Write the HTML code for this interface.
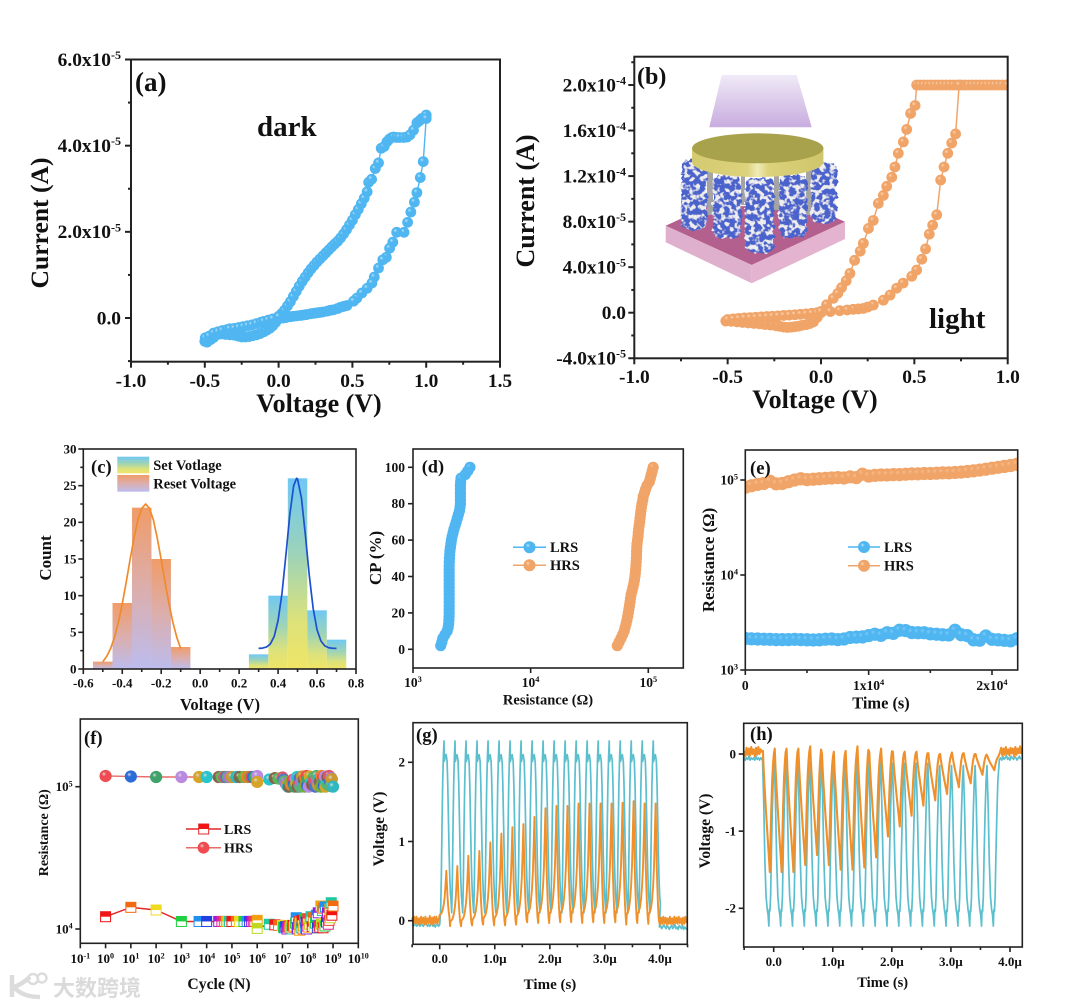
<!DOCTYPE html>
<html lang="en">
<head>
<meta charset="utf-8">
<title>Memristor characterisation figure</title>
<style>
html,body{margin:0;padding:0;background:#fff;}
svg{display:block;}
text{font-family:"Liberation Serif","Noto Serif CJK SC",serif;font-weight:bold;fill:#111;}
.wm{font-family:"Liberation Sans","Noto Sans CJK SC",sans-serif;font-weight:bold;fill:#dadada;}
</style>
</head>
<body>
<svg id="fig" xmlns="http://www.w3.org/2000/svg" width="1080" height="1007" viewBox="0 0 1080 1007">
<defs id="defs">
  <linearGradient id="setFill" x1="0" y1="0" x2="0" y2="1"><stop offset="0" stop-color="#6fc8f4"/><stop offset=".4" stop-color="#9dd3b8"/><stop offset=".75" stop-color="#dde27a"/><stop offset="1" stop-color="#efe566"/></linearGradient>
  <linearGradient id="resetFill" x1="0" y1="0" x2="0" y2="1"><stop offset="0" stop-color="#f09c68"/><stop offset=".5" stop-color="#dcaeac"/><stop offset="1" stop-color="#bcbcee"/></linearGradient>
  <linearGradient id="beamFill" x1="0" y1="0" x2="0" y2="1"><stop offset="0" stop-color="#f0eaf7"/><stop offset="1" stop-color="#c8acdf"/></linearGradient>
  <linearGradient id="diskSide" x1="0" y1="0" x2="1" y2="0"><stop offset="0" stop-color="#d4ca70"/><stop offset=".42" stop-color="#dcd27c"/><stop offset=".5" stop-color="#f0ebb8"/><stop offset=".58" stop-color="#dcd27c"/><stop offset="1" stop-color="#cfc56a"/></linearGradient>
  <filter id="pillarNoise" x="-10%" y="-10%" width="120%" height="120%">
    <feTurbulence type="fractalNoise" baseFrequency="0.2" numOctaves="2" seed="7" result="n"/>
    <feDisplacementMap in="SourceGraphic" in2="n" scale="6" xChannelSelector="R" yChannelSelector="G" result="rough"/>
    <feColorMatrix in="n" type="matrix" values="0 0 0 0 0.85  0 0 0 0 0.85  0 0 0 0 0.86  7 0 0 0 -3.4" result="blobs"/>
    <feComposite in="blobs" in2="rough" operator="in" result="speck"/>
    <feMerge><feMergeNode in="rough"/><feMergeNode in="speck"/></feMerge>
  </filter>
  <clipPath id="clipB"><rect x="634.3" y="56.7" width="373.4" height="301.6"/></clipPath>
  <clipPath id="clipE"><rect x="745.3" y="450" width="272.4" height="220"/></clipPath>
</defs>
<rect width="1080" height="1007" fill="#fff"/>

<g id="inset">
  <polygon points="721.7,75 796.7,75 811.7,127.3 709.3,127.3" fill="url(#beamFill)"/>
  <polygon points="665.7,225.7 706.7,206.7 806.7,205 845,221.7 751.7,265" fill="#b4608e"/>
  <polygon points="665.7,225.7 751.7,265 751.7,283.3 665.7,242.3" fill="#dfb0cd"/>
  <polygon points="751.7,265 845,221.7 845,239 751.7,283.3" fill="#e3b3d0"/>
  <rect x="707" y="165" width="6" height="50" fill="#a4a4a4"/>
  <rect x="741" y="170" width="4" height="35" fill="#a4a4a4"/>
  <rect x="774" y="170" width="5" height="40" fill="#a4a4a4"/>
  <rect x="806" y="165" width="6" height="50" fill="#a4a4a4"/>
  <rect x="681" y="160" width="26" height="70" rx="8" fill="#4a62cc" filter="url(#pillarNoise)"/>
  <rect x="811" y="163" width="26" height="60" rx="8" fill="#4a62cc" filter="url(#pillarNoise)"/>
  <rect x="713" y="175" width="28" height="63" rx="8" fill="#4a62cc" filter="url(#pillarNoise)"/>
  <rect x="779" y="175" width="28" height="63" rx="8" fill="#4a62cc" filter="url(#pillarNoise)"/>
  <rect x="745" y="178" width="29" height="75" rx="8" fill="#4a62cc" filter="url(#pillarNoise)"/>
  <path d="M692,148 L692,162 A65.7,15 0 0 0 823.4,162 L823.4,148 Z" fill="url(#diskSide)"/>
  <ellipse cx="757.7" cy="148.3" rx="65.7" ry="15" fill="#a9a24c"/>
</g>

<g id="panelA">
  <text x="135" y="91" font-size="27">(a)</text>
  <text x="257" y="136" font-size="29">dark</text>
  <text x="319" y="412" font-size="26" text-anchor="middle">Voltage (V)</text>
  <text transform="translate(48,223) rotate(-90)" font-size="25.6" text-anchor="middle">Current (A)</text>
</g>
<g id="panelB">
  <text x="637" y="84" font-size="24">(b)</text>
  <text x="929" y="328" font-size="29">light</text>
  <text x="815" y="408" font-size="26" text-anchor="middle">Voltage (V)</text>
  <text transform="translate(534,201) rotate(-90)" font-size="26" text-anchor="middle">Current (A)</text>
</g>
<g id="panelC">
  <text x="91" y="473" font-size="18.6">(c)</text>
  <text x="220" y="710" font-size="16.6" text-anchor="middle">Voltage (V)</text>
  <text transform="translate(51,558) rotate(-90)" font-size="17" text-anchor="middle">Count</text>
  <rect x="117.3" y="456.7" width="32" height="16.6" fill="url(#setFill)"/>
  <rect x="117.3" y="475" width="32" height="16.7" fill="url(#resetFill)"/>
  <text x="153.3" y="470" font-size="14.4">Set Votlage</text>
  <text x="153.3" y="488.3" font-size="14.4">Reset Voltage</text>
</g>
<g id="panelD">
  <text x="421.7" y="472.3" font-size="18.3">(d)</text>
  <text x="548" y="704.3" font-size="14.5" text-anchor="middle">Resistance (Ω)</text>
  <text transform="translate(381,558) rotate(-90)" font-size="17" text-anchor="middle">CP (%)</text>
</g>
<g id="panelE">
  <text x="881" y="708.3" font-size="16.4" text-anchor="middle">Time (s)</text>
  <text transform="translate(714,560) rotate(-90)" font-size="16.8" text-anchor="middle">Resistance (Ω)</text>
</g>
<g id="panelF">
  <text x="84" y="744" font-size="18.6">(f)</text>
  <text x="219" y="989" font-size="15.7" text-anchor="middle">Cycle (N)</text>
  <text transform="translate(48,832.7) rotate(-90)" font-size="14" text-anchor="middle">Resistance (Ω)</text>
</g>
<g id="panelG">
  <text x="416" y="741" font-size="18.6">(g)</text>
  <text x="550" y="989" font-size="15" text-anchor="middle">Time (s)</text>
  <text transform="translate(384,829) rotate(-90)" font-size="15.5" text-anchor="middle">Voltage (V)</text>
</g>
<g id="panelH">
  <text x="750" y="740" font-size="18.6">(h)</text>
  <text x="882.7" y="987" font-size="14.5" text-anchor="middle">Time (s)</text>
  <text transform="translate(710,831) rotate(-90)" font-size="15.5" text-anchor="middle">Voltage (V)</text>
</g>
<g id="watermark">
  <path d="M12,975 L12,997 M30,977 C22,984 17,986 14,987 C18,992 26,997 40,997" fill="none" stroke="#dcdcdc" stroke-width="4.5"/>
  <circle cx="33" cy="979" r="5" fill="none" stroke="#dcdcdc" stroke-width="2.4"/>
  <circle cx="42" cy="978" r="4.5" fill="none" stroke="#dcdcdc" stroke-width="2.4"/>
  <text class="wm" x="53" y="996" font-size="22">大数跨境</text>
</g>
</svg>

<script>
/* ---------- panel (a) dark I-V: volts, current in 1e-5 A ---------- */
const aVoltage = [0,.02,.04,.06,.08,.10,.12,.14,.16,.18,.20,.22,.24,.26,.28,.30,.32,.34,.36,.38,.40,.42,.44,.46,.48,.50,.52,.54,.56,.58,.60,.61,.63,.655,.677,.695,.715,.734,.75,.767,.78,.80,.82,.847,.87,.89,.914,.937,.955,.97,.985,1.0,1.0,
 .98,.96,.937,.92,.896,.874,.85,.80,.774,.752,.73,.706,.677,.648,.632,.60,.564,.53,.508,.463,.44,.42,.40,.372,.35,.33,.30,.28,.26,.24,.22,.19,.17,.15,.125,.10,.08,.05,.03,0,
 -.02,-.04,-.06,-.08,-.10,-.125,-.15,-.175,-.20,-.225,-.25,-.275,-.30,-.33,-.36,-.39,-.42,-.44,-.46,-.485,-.50,
 -.497,-.47,-.44,-.41,-.38,-.35,-.33,-.30,-.27,-.24,-.21,-.18,-.15,-.12,-.10,-.07,-.04,0];
const aCurrent = [.04,.10,.18,.28,.38,.50,.62,.74,.85,.95,1.05,1.14,1.22,1.30,1.37,1.44,1.51,1.58,1.65,1.72,1.78,1.86,1.95,2.05,2.16,2.27,2.40,2.52,2.65,2.78,2.93,3.15,3.22,3.47,3.60,3.94,3.98,4.09,4.15,4.19,4.20,4.19,4.19,4.19,4.20,4.25,4.36,4.53,4.58,4.63,4.65,4.71,4.63,
 3.63,3.26,2.91,2.69,2.46,2.22,1.99,1.99,1.76,1.62,1.41,1.35,1.16,.95,.81,.69,.58,.46,.39,.29,.27,.25,.22,.19,.18,.16,.14,.13,.12,.11,.10,.08,.07,.06,.05,.04,.03,.01,0,-.02,
 -.10,-.18,-.24,-.28,-.32,-.36,-.39,-.41,-.43,-.44,-.44,-.42,-.40,-.39,-.38,-.37,-.39,-.45,-.50,-.56,-.54,
 -.46,-.42,-.35,-.32,-.29,-.27,-.25,-.24,-.22,-.20,-.18,-.16,-.13,-.10,-.08,-.05,-.02,.03];
const aXTicks = [-1,-0.5,0,0.5,1,1.5];
const aXMinor = [-0.75,-0.25,0.25,0.75,1.25];
const aXLabels = ['-1.0','-0.5','0.0','0.5','1.0','1.5'];
const aYTicks = [0,2,4,6];
const aYMinor = [-1,1,3,5];
const aYLabels = ['0.0','2.0x10|-5','4.0x10|-5','6.0x10|-5'];

/* ---------- panel (b) light I-V: volts, current in 1e-5 A ---------- */
const bVoltage = [0,.03,.066,.09,.11,.135,.155,.18,.21,.227,.254,.28,.307,.334,.352,.379,.396,.414,.441,.459,.48,.504,.5125,.53,.55,.57,.59,.61,.63,.65,.67,.69,.71,.73,.75,.77,.79,.81,.83,.85,.87,.89,.91,.93,.95,.97,.99,1.0,.98,.90,.80,.74,
 .721,.70,.679,.659,.641,.62,.598,.58,.56,.54,.5125,.486,.44,.405,.37,.334,.28,.25,.227,.20,.173,.14,.10,.05,0,
 -.02,-.04,-.06,-.08,-.10,-.12,-.14,-.16,-.18,-.20,-.22,-.24,-.27,-.30,-.33,-.36,-.39,-.42,-.45,-.48,-.51,
 -.50,-.47,-.44,-.41,-.38,-.35,-.32,-.29,-.26,-.23,-.20,-.17,-.14,-.11,-.08,-.05,-.02,0];
const bCurrent = [.1,.7,1.26,1.7,2.2,2.8,3.45,4.6,5.4,6.1,7.4,8.1,9.6,10.3,11.1,11.9,12.8,14,15,16.1,17.5,18.2,20,20,20,20,20,20,20,20,20,20,20,20,20,20,20,20,20,20,20,20,20,20,20,20,20,20,20,20,20,20,
 15.7,14.9,14,12.8,11.65,8.6,7.7,6.9,5.6,4.7,3.75,3.2,2.6,2.15,1.55,1.1,.67,.5,.38,.33,.3,.24,.18,.1,0,
 -.4,-.8,-.95,-1.05,-1.1,-1.18,-1.23,-1.27,-1.29,-1.26,-1.2,-1.15,-1.08,-1.04,-.98,-.94,-.9,-.85,-.8,-.76,-.73,
 -.6,-.55,-.5,-.46,-.43,-.4,-.37,-.34,-.31,-.28,-.24,-.21,-.18,-.14,-.1,-.05,0,.1];
const bMarkerless = [48,49,50];
const bXTicks = [-1,-0.5,0,0.5,1];
const bXMinor = [-0.75,-0.25,0.25,0.75];
const bXLabels = ['-1.0','-0.5','0.0','0.5','1.0'];
const bYTicks = [-4,0,4,8,12,16,20];
const bYMinor = [-2,2,6,10,14,18,22];
const bYLabels = ['-4.0x10|-5','0.0','4.0x10|-5','8.0x10|-5','1.2x10|-4','1.6x10|-4','2.0x10|-4'];

/* ---------- panel (c) histograms ---------- */
const cResetCentres = [-0.5,-0.4,-0.3,-0.2,-0.1];
const cResetCounts = [1,9,22,15,3];
const cSetCentres = [0.3,0.4,0.5,0.6,0.7];
const cSetCounts = [2,10,26,8,4];
const cBinWidth = 0.1;
const cResetFitX = [-.5,-.48,-.46,-.44,-.42,-.40,-.38,-.36,-.34,-.32,-.30,-.28,-.26,-.24,-.22,-.20,-.18,-.16,-.14,-.12,-.10];
const cResetFitY = [.99,1.7,2.78,4.31,6.35,8.88,11.8,14.9,17.8,20.3,21.9,22.5,21.9,20.3,17.8,14.9,11.8,8.88,6.35,4.31,2.78];
const cSetFitX = [.30,.32,.34,.36,.38,.40,.42,.44,.46,.48,.495,.50,.52,.54,.56,.58,.60,.62,.64,.66,.68,.70];
const cSetFitY = [2.81,2.85,2.99,3.4,4.44,6.63,10.3,15.5,21,25,26,25.9,23.3,18.3,12.8,8.27,5.35,3.82,3.15,2.9,2.83,2.81];
const cXTicks = [-0.6,-0.4,-0.2,0,0.2,0.4,0.6,0.8];
const cXMinor = [-0.5,-0.3,-0.1,0.1,0.3,0.5,0.7];
const cXLabels = ['-0.6','-0.4','-0.2','0.0','0.2','0.4','0.6','0.8'];
const cYTicks = [0,5,10,15,20,25,30];
const cYMinor = [2.5,7.5,12.5,17.5,22.5,27.5];
const cYLabels = ['0','5','10','15','20','25','30'];

/* ---------- panel (d) cumulative probability ---------- */
const dCP = [2,4,6,8,10,12,14,16,18,20,22,24,26,28,30,32,34,36,38,40,42,44,46,48,50,52,54,56,58,60,62,64,66,68,70,72,74,76,78,80,82,84,86,88,90,92,94,96,98,100];
const dLRS = [1720,1760,1790,1870,1950,1990,2010,2020,2025,2030,2030,2030,2030,2030,2030,2030,2030,2030,2030,2030,2030,2030,2030,2035,2040,2050,2060,2080,2100,2120,2150,2190,2230,2280,2330,2380,2430,2480,2510,2530,2530,2530,2530,2530,2530,2540,2560,2780,2920,3050];
const dHRS = [54500,56500,58500,60500,62300,63500,64700,65800,66800,67600,68400,69200,70000,70600,71400,72700,74000,75200,76200,77000,77600,78100,78500,78900,79200,79400,79600,79800,80200,81000,81800,82200,82800,83600,84500,85000,85800,86500,87300,88400,89800,90600,92800,95000,97500,102000,104000,106000,108000,110000];
const dXTicks = [1e3,1e4,1e5];
const dXLabels = ['10|3','10|4','10|5'];
const dYTicks = [0,20,40,60,80,100];
const dYLabels = ['0','20','40','60','80','100'];

/* ---------- panel (e) retention ---------- */
const eTime = [0,500,1000,1500,2000,2500,3000,3500,4000,4500,5000,5500,6000,6500,7000,7500,8000,8500,9000,9500,10000,10500,11000,11500,12000,12500,13000,13500,14000,14500,15000,15500,16000,16500,17000,17500,18000,18500,19000,19500,20000,20500,21000,21500,22000];
const eLRS = [2150,2130,2120,2110,2100,2090,2090,2090,2100,2090,2080,2070,2080,2110,2120,2090,2120,2200,2220,2230,2300,2380,2320,2470,2430,2620,2600,2480,2470,2470,2400,2380,2350,2340,2620,2350,2300,2080,2060,2280,2100,2080,2050,2030,2130];
const eHRS = [84000,87000,90000,92000,97000,91000,92000,96000,100000,103000,101000,102000,103000,104000,105000,106000,105000,108000,106000,115000,110000,112000,113000,113000,114000,114000,115000,116000,116000,117000,117000,118000,119000,119000,120000,121000,123000,125000,127000,130000,133000,136000,139000,142000,146000];
const eXTicks = [0,1e4,2e4];
const eXMinor = [5000,15000];
const eXLabels = ['0','1x10|4','2x10|4'];
const eYTicks = [1e3,1e4,1e5];
const eYLabels = ['10|3','10|4','10|5'];

/* ---------- panel (f) endurance ---------- */
const fCycles = [1,10,100,1e3,5e3,1e4,3e4,4e4,5e4,6e4,7e4,8e4,1e5,1.5e5,2e5,3e5,4e5,5e5,6e5,7e5,8e5,1e6,1e6,3e6,5e6,7e6,
 1e7,1.1e7,1.2e7,1.35e7,1.5e7,1.65e7,1.8e7,2e7,2.2e7,2.4e7,2.6e7,2.8e7,3e7,3.3e7,3.5e7,3.8e7,4e7,4.3e7,4.5e7,4.8e7,
 5e7,5.5e7,6e7,6.5e7,7e7,7.5e7,8e7,8.5e7,9e7,9.5e7,1e8,1.1e8,1.2e8,1.35e8,1.5e8,1.65e8,1.8e8,2e8,2.2e8,2.4e8,
 2.6e8,2.8e8,3e8,3.3e8,3.5e8,3.8e8,4e8,4.3e8,4.5e8,4.8e8,5e8,5.5e8,6e8,6.5e8,7e8,7.5e8,8e8,8.5e8,9e8,1e9];
const fHRS = [1.19e5,1.18e5,1.17e5,1.17e5,1.17e5,1.17e5,1.17e5,1.17e5,1.17e5,1.17e5,1.17e5,1.17e5,1.17e5,1.17e5,1.17e5,1.17e5,1.17e5,1.17e5,1.17e5,1.17e5,1.17e5,1.19e5,1.08e5,1.125e5,1.15e5,1.14e5,
 1.16e5,1.12e5,1.09e5,1.05e5,1.02e5,1.0e5,1.0e5,1.08e5,1.03e5,1.1e5,1.12e5,1.04e5,1.0e5,1.14e5,1.06e5,1.17e5,1.0e5,1.1e5,1.04e5,1.15e5,
 1.0e5,1.08e5,1.18e5,1.03e5,1.12e5,1.0e5,1.16e5,1.06e5,1.19e5,1.02e5,1.13e5,1.0e5,1.18e5,1.07e5,1.03e5,1.16e5,1.11e5,1.0e5,1.19e5,1.06e5,
 1.02e5,1.14e5,1.08e5,1.0e5,1.19e5,1.05e5,1.16e5,1.02e5,1.1e5,1.18e5,1.0e5,1.06e5,1.17e5,1.03e5,1.19e5,1.08e5,1.01e5,1.15e5,1.13e5,1.0e5];
const fLRS = [1.22e4,1.42e4,1.36e4,1.13e4,1.13e4,1.13e4,1.13e4,1.13e4,1.13e4,1.13e4,1.13e4,1.13e4,1.13e4,1.13e4,1.13e4,1.13e4,1.13e4,1.13e4,1.13e4,1.13e4,1.13e4,1.15e4,1.01e4,1.08e4,1.07e4,1.06e4,
 1.06e4,1.03e4,1.02e4,1.04e4,1.0e4,1.03e4,1.05e4,1.02e4,1.05e4,1.0e4,1.06e4,1.03e4,1.05e4,1.1e4,1.2e4,1.02e4,1.0e4,1.08e4,1.13e4,0.98e4,
 1.1e4,1.02e4,1.15e4,1.0e4,1.05e4,1.18e4,1.02e4,1.12e4,1.0e4,1.05e4,1.18e4,1.03e4,1.08e4,1.22e4,1.04e4,1.2e4,1.02e4,1.1e4,1.25e4,1.02e4,
 1.3e4,1.05e4,1.03e4,1.45e4,1.08e4,1.35e4,1.02e4,1.4e4,1.1e4,1.05e4,1.43e4,1.12e4,1.3e4,1.08e4,1.15e4,1.38e4,1.2e4,1.53e4,1.25e4,1.45e4];
const fCircleColors = ['#ef4b50','#2b6cd8','#3fa26b','#b98ae0','#d6a427','#27c4c9','#8b5e4a','#58b858','#e0556a','#4a76c8','#5fae78','#a878d0','#c89a30','#30b8c0','#7a6a50','#70b040','#ee7f2a','#9a9a30'];
const fSquareColors = ['#f01414','#f26a10','#f0da20','#20d040','#2090f0','#2040e0','#9020e0','#e020a0','#f04040','#f0a010','#c0d820','#20c8a0'];
const fXTicks = [1e-1,1,10,100,1e3,1e4,1e5,1e6,1e7,1e8,1e9,1e10];
const fXLabels = ['10|-1','10|0','10|1','10|2','10|3','10|4','10|5','10|6','10|7','10|8','10|9','10|10'];
const fYTicks = [1e4,1e5];
const fYLabels = ['10|4','10|5'];

/* ---------- panel (g) set pulses (µs, V) ---------- */
const gPulseTime = [0,.2,.4,.6,.8,1.0,1.2,1.4,1.6,1.8,2.0,2.2,2.4,2.6,2.8,3.0,3.2,3.4,3.6,3.8];
const gCyanPeak = [2.27,2.27,2.27,2.27,2.27,2.27,2.27,2.27,2.27,2.27,2.27,2.27,2.27,2.27,2.27,2.27,2.27,2.27,2.27,2.27];
const gCyanFloor = [.14,.1,.1,.1,.1,.1,.1,.1,.1,.1,.1,.1,.1,.1,.1,.1,.1,.1,.1,.1];
const gOrangePeak = [.63,.69,.82,.88,.99,1.10,1.18,1.22,1.31,1.42,1.45,1.45,1.48,1.48,1.48,1.48,1.49,1.51,1.48,1.48];
const gOrangeFloor = [.02,-.07,-.07,-.06,-.05,-.06,-.06,-.05,-.02,-.03,-.03,-.02,-.02,-.03,-.02,-.03,-.02,-.05,-.03,-.04];
const gCyanBefore = [-.05,-.07,-.05,-.04,-.07,-.05,-.05,-.07,-.04,-.05,-.07,-.05,-.05,-.04,-.07,-.05,-.07,-.05,-.04,-.07,-.05,-.08,-.05,-.05,-.07,-.05];
const gCyanAfter = [-.08,-.06,-.1,-.08,-.05,-.08,-.1,-.06,-.08,-.11,-.08,-.06,-.1,-.08,-.05,-.1,-.08,-.11,-.06,-.08,-.1,-.06,-.11,-.08,-.1,-.11];
const gOrangeBefore = [.04,-.04,.05,-.03,.05,-.05,.03,-.04,.05,-.03,.04,-.05,.05,-.04,.03,-.03,.06,-.04,.04,-.05,.05,-.03,.05,-.04,.03,.03];
const gOrangeAfter = [.0,-.05,.04,-.04,.05,-.03,.04,-.05,.03,-.04,.05,-.04,.03,-.05,.05,-.03,.04,-.04,.05,-.03,.03,-.05,.04,-.04,.05,-.03];
const gBaseStep = 0.02;
const gXTicks = [0,1,2,3,4];
const gXMinor = [-.5,.5,1.5,2.5,3.5,4.5];
const gXLabels = ['0.0','1.0µ','2.0µ','3.0µ','4.0µ'];
const gYTicks = [0,1,2];
const gYLabels = ['0','1','2'];

/* ---------- panel (h) reset pulses (µs, V) ---------- */
const hPulseTime = [-.19,.01,.21,.41,.61,.81,1.01,1.21,1.41,1.61,1.81,2.01,2.21,2.41,2.61,2.81,3.01,3.21,3.41,3.61];
const hCyanBottom = [-2.23,-2.23,-2.23,-2.23,-2.23,-2.23,-2.23,-2.23,-2.23,-2.23,-2.23,-2.23,-2.23,-2.23,-2.23,-2.23,-2.23,-2.23,-2.23,-2.23];
const hCyanTop = [-.05,-.08,-.08,-.1,-.1,-.1,-.1,-.1,-.1,-.1,-.1,-.12,-.12,-.12,-.12,-.15,-.15,-.15,-.15,-.15];
const hOrangeTop = [.04,.07,.07,.07,.1,.0,.03,.04,.1,.03,.07,.03,.03,.03,.01,0,.02,.01,0,-.03];
const hOrangeBottom = [-1.53,-1.53,-1.53,-1.44,-1.31,-1.44,-1.50,-1.50,-1.47,-1.34,-1.07,-.94,-.80,-.67,-.60,-.52,-.43,-.38,-.27,-.21];
const hCyanBefore = [-.05,-.08,-.05,-.07,-.03,-.08,-.05,-.07,-.05,-.08,-.03,-.07,-.05,-.08,-.05,-.07];
const hCyanAfter = [-.07,-.05,-.08,-.03,-.07,-.05,-.02,-.07,-.05,-.08,-.03,-.05,-.07,-.03,-.05,-.08,-.05,-.03,-.07];
const hOrangeBefore = [.04,-.03,.08,-.01,.07,-.02,.09,.0,.06,-.03,.08,-.01,.09,.0,.06,.03];
const hOrangeAfter = [.02,.08,-.02,.07,-.01,.09,.0,.06,-.02,.08,.01,.07,-.03,.09,-.01,.07,.01,.1,.0];
const hBaseStep = 0.02;
const hXTicks = [0,1,2,3,4];
const hXMinor = [-.5,.5,1.5,2.5,3.5];
const hXLabels = ['0.0','1.0µ','2.0µ','3.0µ','4.0µ'];
const hYTicks = [-2,-1,0];
const hYLabels = ['-2','-1','0'];

/* ---------- pulse shapes: [fraction of period, fraction of pulse height] ---------- */
const gCyanShape = [[.09,0],[.15,.2],[.21,.5],[.27,.75],[.33,.9],[.39,1],[.42,.88],[.48,.9],[.58,.92],[.67,.88],[.73,.75],[.79,.55],[.85,.35],[.91,.2],[.97,.1],[1.03,.05]];
const gOrangeShape = [[-.06,0],[-.02,.08],[.08,.1],[.18,.13],[.28,.2],[.38,.32],[.46,.48],[.53,.72],[.6,1],[.65,.75],[.7,.5],[.76,.3],[.82,.15],[.88,.05]];
const hCyanShape = [[0,0],[.1,.25],[.2,.6],[.3,.82],[.4,.9],[.47,.93],[.54,1],[.58,.9],[.63,.91],[.69,.82],[.76,.55],[.84,.3],[.92,.1]];
const hOrangeShape = [[.04,0],[.1,.15],[.18,.3],[.28,.47],[.38,.63],[.48,.78],[.56,.9],[.62,1],[.67,.78],[.74,.5],[.82,.25],[.9,.1],[.96,.03]];

/* ---------- helpers ---------- */
const NS = 'http://www.w3.org/2000/svg';
const fig = document.getElementById('fig');
const defs = document.getElementById('defs');
function mk(parent, tag, attrs){
  const el = document.createElementNS(NS, tag);
  for (const k in attrs) el.setAttribute(k, attrs[k]);
  parent.appendChild(el);
  return el;
}
function lin(d0,d1,r0,r1){ return v => r0 + (v-d0)*(r1-r0)/(d1-d0); }
function logScale(d0,d1,r0,r1){ const a=Math.log10(d0), b=Math.log10(d1); return v => r0 + (Math.log10(v)-a)*(r1-r0)/(b-a); }
function gloss(id, color, light){
  const g = mk(defs,'radialGradient',{id:id,cx:'.42',cy:'.42',r:'.62',fx:'.36',fy:'.32'});
  mk(g,'stop',{offset:'0','stop-color':light});
  mk(g,'stop',{offset:'.3','stop-color':color});
  mk(g,'stop',{offset:'1','stop-color':color});
}
gloss('blueBall','#4fb6f1','#b8e4fb');
gloss('orangeBall','#f1a468','#f9d8ba');
gloss('blueSoft','#4fb6f1','#7ccaf5');
gloss('orangeSoft','#f1a468','#f5bd8e');
fCircleColors.forEach((c,i)=>gloss('fBall'+i,c,'#dedede'));

function labelText(parent, x, y, label, fs, anchor, name){
  const t = mk(parent,'text',{x:x,y:y,'font-size':fs,'text-anchor':anchor});
  
  
  const parts = String(label).split('|');
  t.appendChild(document.createTextNode(parts[0]));
  if (parts[1] !== undefined){
    const s = mk(t,'tspan',{dy:-fs*0.36,'font-size':fs*0.62});
    s.textContent = parts[1];
  }
  return t;
}
function tick(parent, x1,y1,x2,y2,w,name){
  const l = mk(parent,'line',{x1:x1,y1:y1,x2:x2,y2:y2,stroke:'#222','stroke-width':w});
  
  
}
function axes(id, p, sx, sy, o){
  const g = document.getElementById(id);
  const tag = id.slice(-1).toLowerCase();
  const fr = mk(g,'rect',{x:p.x0,y:p.y0,width:p.x1-p.x0,height:p.y1-p.y0,fill:'none',stroke:'#222','stroke-width':o.frame});
  
  
  o.xt.forEach((v,i)=>{
    const x = sx(v);
    tick(g,x,p.y1,x,p.y1+o.major,o.tw,'x-tick-'+tag);
    labelText(g,x+(o.xShift||0),o.xBase,o.xl[i],o.fs,'middle','x-tick-label-'+tag);
  });
  (o.xm||[]).forEach(v=>{ const x=sx(v); tick(g,x,p.y1,x,p.y1+o.minor,o.tw,'x-minor-tick-'+tag); });
  o.yt.forEach((v,i)=>{
    const y = sy(v);
    tick(g,p.x0,y,p.x0-o.major,y,o.tw,'y-tick-'+tag);
    labelText(g,o.yRight,y+o.fs*0.33,o.yl[i],o.fs,'end','y-tick-label-'+tag);
  });
  (o.ym||[]).forEach(v=>{ const y=sy(v); tick(g,p.x0,y,p.x0-o.minor,y,o.tw,'y-minor-tick-'+tag); });
}
function polyline(parent, xs, ys, sx, sy, color, w, name, clip){
  const pts = xs.map((v,i)=>sx(v).toFixed(2)+','+sy(ys[i]).toFixed(2)).join(' ');
  const l = mk(parent,'polyline',{points:pts,fill:'none',stroke:color,'stroke-width':w,'stroke-linejoin':'round'});
  
  
  if (clip) l.setAttribute('clip-path','url(#'+clip+')');
  return l;
}
function balls(parent, xs, ys, sx, sy, ball, r, name, clip, skip){
  xs.forEach((v,i)=>{
    if (skip && skip.indexOf(i)>=0) return;
    const c = mk(parent,'circle',{cx:sx(v).toFixed(2),cy:sy(ys[i]).toFixed(2),r:r,fill:'url(#'+ball+')'});
    
    
    if (clip) c.setAttribute('clip-path','url(#'+clip+')');
  });
}
function legendEntry(parent, x0, x1, y, color, ball, r, label, fs, textX, name){
  const l = mk(parent,'line',{x1:x0,y1:y,x2:x1,y2:y,stroke:color,'stroke-width':1.5});
  
  
  const c = mk(parent,'circle',{cx:(x0+x1)/2,cy:y,r:r,fill:'url(#'+ball+')'});
  
  
  labelText(parent,textX,y+fs*0.33,label,fs,'start',name+'-label');
}
function pulsePath(parent, before, after, baseStep, beforeStart, afterStart, times, floors, peaks, shape, sx, sy, color, w, name){
  const pts = [];
  before.forEach((v,i)=>pts.push([beforeStart+i*baseStep, v]));
  times.forEach((t,i)=>{
    shape.forEach(s=>pts.push([t+s[0]*0.2, floors[i]+s[1]*(peaks[i]-floors[i])]));
  });
  after.forEach((v,i)=>pts.push([afterStart+i*baseStep, v]));
  const d = 'M'+pts.map(p=>sx(p[0]).toFixed(2)+' '+sy(p[1]).toFixed(2)).join('L');
  const el = mk(parent,'path',{d:d,fill:'none',stroke:color,'stroke-width':w,'stroke-linejoin':'round'});
  
  
}

/* ---------- (a) ---------- */
(function(){
  const sx = lin(-1,1.5,131,500), sy = lin(0,6,318,59.5);
  const g = document.getElementById('panelA');
  polyline(g,aVoltage,aCurrent,sx,sy,'#4fb6f1',1.4,'iv-curve-line-dark');
  balls(g,aVoltage,aCurrent,sx,sy,'blueBall',5.4,'iv-point-dark');
  axes('panelA',{x0:131,x1:500,y0:59.5,y1:361.7},sx,sy,{frame:2,tw:2,major:6,minor:3,fs:19.4,xt:aXTicks,xm:aXMinor,xl:aXLabels,yt:aYTicks,ym:aYMinor,yl:aYLabels,xBase:387,yRight:121});
})();

/* ---------- (b) ---------- */
(function(){
  const sx = lin(-1,1,634.3,1007.7), sy = lin(0,20,312.7,85);
  const g = document.getElementById('panelB');
  polyline(g,bVoltage,bCurrent,sx,sy,'#f1a468',1.5,'iv-curve-line-light','clipB');
  balls(g,bVoltage,bCurrent,sx,sy,'orangeBall',5.4,'iv-point-light','clipB',bMarkerless);
  axes('panelB',{x0:634.3,x1:1007.7,y0:56.7,y1:358.3},sx,sy,{frame:2,tw:2,major:6,minor:3,fs:19.4,xt:bXTicks,xm:bXMinor,xl:bXLabels,yt:bYTicks,ym:bYMinor,yl:bYLabels,xBase:383,yRight:626});
})();

/* ---------- (c) ---------- */
(function(){
  const sx = lin(-.6,.8,83.3,356), sy = lin(0,30,669,449);
  const g = document.getElementById('panelC');
  function bars(centres, counts, fill, name){
    centres.forEach((c,i)=>{
      const r = mk(g,'rect',{x:sx(c-cBinWidth/2),y:sy(counts[i]),width:sx(c+cBinWidth/2)-sx(c-cBinWidth/2),height:sy(0)-sy(counts[i]),fill:fill});
      
      
    });
  }
  bars(cResetCentres,cResetCounts,'url(#resetFill)','reset-voltage-bar');
  bars(cSetCentres,cSetCounts,'url(#setFill)','set-voltage-bar');
  polyline(g,cResetFitX,cResetFitY,sx,sy,'#f08a2a',1.7,'reset-gaussian-fit');
  polyline(g,cSetFitX,cSetFitY,sx,sy,'#1d4fcf',1.7,'set-gaussian-fit');
  axes('panelC',{x0:83.3,x1:356,y0:449,y1:669},sx,sy,{frame:1.6,tw:1.6,major:5,minor:3,fs:13,xt:cXTicks,xm:cXMinor,xl:cXLabels,yt:cYTicks,ym:cYMinor,yl:cYLabels,xBase:687.5,yRight:76.5});
})();

/* ---------- (d) ---------- */
(function(){
  const sx = logScale(1e3,1e5,413,648.3), sy = lin(0,100,649.3,467.3);
  const g = document.getElementById('panelD');
  polyline(g,dLRS,dCP,sx,sy,'#4fb6f1',1.3,'lrs-distribution-line');
  balls(g,dLRS,dCP,sx,sy,'blueSoft',5.6,'lrs-point');
  polyline(g,dHRS,dCP,sx,sy,'#f1a468',1.3,'hrs-distribution-line');
  balls(g,dHRS,dCP,sx,sy,'orangeSoft',5.6,'hrs-point');
  legendEntry(g,513,546,547.3,'#4fb6f1','blueBall',6,'LRS',14.5,550,'legend-lrs');
  legendEntry(g,513,546,565.3,'#f1a468','orangeBall',6,'HRS',14.5,550,'legend-hrs');
  axes('panelD',{x0:413,x1:683.3,y0:449,y1:668},sx,sy,{frame:1.6,tw:1.6,major:5,minor:3,fs:13.5,xt:dXTicks,xl:dXLabels,yt:dYTicks,yl:dYLabels,xBase:687,yRight:405});
})();

/* ---------- (e) ---------- */
(function(){
  const sx = lin(0,2e4,745.3,992), sy = logScale(1e3,1e5,670,480);
  const g = document.getElementById('panelE');
  polyline(g,eTime,eLRS,sx,sy,'#4fb6f1',1.3,'lrs-retention-line','clipE');
  balls(g,eTime,eLRS,sx,sy,'blueSoft',6.6,'lrs-retention-point','clipE');
  polyline(g,eTime,eHRS,sx,sy,'#f1a468',1.3,'hrs-retention-line','clipE');
  balls(g,eTime,eHRS,sx,sy,'orangeSoft',6.6,'hrs-retention-point','clipE');
  labelText(g,750,474,'(e)',18.6,'start','panel-label-e');
  legendEntry(g,848,880,547,'#4fb6f1','blueBall',6,'LRS',14.5,884,'legend-lrs');
  legendEntry(g,848,880,565.7,'#f1a468','orangeBall',6,'HRS',14.5,884,'legend-hrs');
  axes('panelE',{x0:745.3,x1:1017.7,y0:450,y1:670},sx,sy,{frame:1.6,tw:1.6,major:5,minor:3,fs:13.5,xt:eXTicks,xm:eXMinor,xl:eXLabels,yt:eYTicks,yl:eYLabels,xBase:690,yRight:738});
})();

/* ---------- (f) ---------- */
(function(){
  const sx = logScale(1e-1,1e10,80.3,358.3), sy = logScale(1e4,1e5,929,786.7);
  const g = document.getElementById('panelF');
  polyline(g,fCycles,fHRS,sx,sy,'#e96a6a',1.4,'hrs-endurance-line');
  polyline(g,fCycles,fLRS,sx,sy,'#e02828',1.5,'lrs-endurance-line');
  fCycles.forEach((n,i)=>{
    const c = mk(g,'circle',{cx:sx(n).toFixed(2),cy:sy(fHRS[i]).toFixed(2),r:6.1,fill:'url(#fBall'+(i%fCircleColors.length)+')'});
    
    
  });
  fCycles.forEach((n,i)=>{
    const col = fSquareColors[i%fSquareColors.length];
    const x = sx(n), y = sy(fLRS[i]);
    const r = mk(g,'rect',{x:(x-5).toFixed(2),y:(y-5).toFixed(2),width:10,height:10,fill:'#fff',stroke:col,'stroke-width':1});
    
    
    const t = mk(g,'rect',{x:(x-5).toFixed(2),y:(y-5).toFixed(2),width:10,height:5,fill:col});
    
    
  });
  const ll = mk(g,'line',{x1:186,y1:829,x2:221,y2:829,stroke:'#e02828','stroke-width':1.5});
  
  
  const lo = mk(g,'rect',{x:198.7,y:824,width:10,height:10,fill:'#fff',stroke:'#e02828','stroke-width':1});
  
  
  const lf = mk(g,'rect',{x:198.7,y:824,width:10,height:5,fill:'#f01414'});
  
  
  labelText(g,224,834,'LRS',14,'start','legend-lrs-label');
  legendEntry(g,186,221,847.7,'#e96a6a','fBall0',5.9,'HRS',14,224,'legend-hrs');
  axes('panelF',{x0:80.3,x1:358.3,y0:719,y1:943.3},sx,sy,{frame:1.6,tw:1.6,major:5,minor:3,fs:13,xt:fXTicks,xl:fXLabels,yt:fYTicks,yl:fYLabels,xBase:963,yRight:72.7});
})();

/* ---------- (g) ---------- */
(function(){
  const sx = lin(0,4,439.7,660), sy = lin(0,2,920.7,762.3);
  const g = document.getElementById('panelG');
  pulsePath(g,gCyanBefore,gCyanAfter,gBaseStep,-.5,3.99,gPulseTime,gCyanFloor,gCyanPeak,gCyanShape,sx,sy,'#5bbfcd',1.7,'input-voltage-trace-g');
  pulsePath(g,gOrangeBefore,gOrangeAfter,gBaseStep,-.5,3.98,gPulseTime,gOrangeFloor,gOrangePeak,gOrangeShape,sx,sy,'#f0902a',1.9,'output-voltage-trace-g');
  axes('panelG',{x0:413,x1:687.3,y0:722.7,y1:944.3},sx,sy,{frame:1.6,tw:1.6,major:5,minor:3,fs:13,xt:gXTicks,xm:gXMinor,xl:gXLabels,yt:gYTicks,yl:gYLabels,xBase:963,yRight:405});
})();

/* ---------- (h) ---------- */
(function(){
  const sx = lin(0,4,773.7,1010), sy = lin(0,-2,754,908.3);
  const g = document.getElementById('panelH');
  pulsePath(g,hCyanBefore,hCyanAfter,hBaseStep,-.5,3.82,hPulseTime,hCyanTop,hCyanBottom,hCyanShape,sx,sy,'#5bbfcd',1.7,'input-voltage-trace-h');
  pulsePath(g,hOrangeBefore,hOrangeAfter,hBaseStep,-.5,3.83,hPulseTime,hOrangeTop,hOrangeBottom,hOrangeShape,sx,sy,'#f0902a',2.1,'output-voltage-trace-h');
  axes('panelH',{x0:743.7,x1:1022.3,y0:723.3,y1:947},sx,sy,{frame:1.6,tw:1.6,major:5,minor:3,fs:13,xt:hXTicks,xm:hXMinor,xl:hXLabels,yt:hYTicks,yl:hYLabels,xBase:966,yRight:736});
})();
</script>
</body>
</html>
